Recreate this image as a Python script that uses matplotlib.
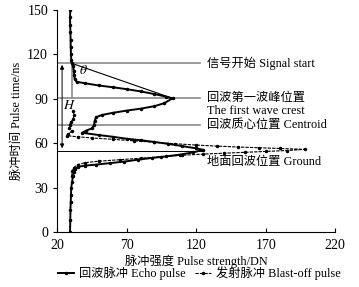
import numpy as np
import matplotlib.pyplot as plt

plt.rcParams['font.family'] = ['Liberation Serif', 'Noto Sans CJK SC']
plt.rcParams['mathtext.fontset'] = 'stix'

# echo pulse (DN, time ns), read from top to bottom
echo_dn = [29.5, 29.3, 29.4, 29.6, 29.7, 29.8, 30.0, 30.2, 30.6, 31.5, 32.0, 32.3, 32.6,
           34.0, 40, 50, 60, 70, 80, 90, 98, 103,
           97, 90, 80, 70, 60, 52, 48, 47, 46.5, 45, 41, 38,
           50, 60, 70, 80, 90, 100, 110, 120, 125,
           118, 108, 98, 88, 78, 68, 58, 48, 40, 35, 33,
           32, 31.5, 30.8, 30.2, 30.0, 29.8, 29.6, 29.5, 29.3]
echo_t = [150, 145, 140, 135, 130, 125, 120, 116, 114, 112, 109, 106, 103.5,
          101.5, 100.5, 99, 97.8, 96.5, 95, 93.2, 91.5, 90.3,
          87, 85, 83.3, 82, 80.5, 79, 77.5, 75, 72, 70, 68.5, 67,
          65.5, 64.3, 63, 62, 60.8, 59.5, 58, 56.5, 55.5,
          53.8, 52.2, 51, 50, 48.8, 47.5, 46.5, 45.5, 44.8, 44, 42.5,
          40.5, 38, 34, 30, 25, 20, 15, 8, 0]

# blast-off pulse (DN, time ns)
blast_dn = [31.5, 32, 31.5, 30, 29, 28.5, 30.5, 27.5, 27,
            35, 45, 60, 75, 90, 105, 120, 135, 150, 165, 180, 198,
            185, 170, 155, 140, 125, 110, 95, 80, 65, 50, 40, 35, 32, 31, 30.5]
blast_t = [82, 79, 76, 74.5, 72.5, 70, 68, 66, 65,
           64.3, 63.5, 62.6, 61.6, 60.6, 59.6, 58.7, 58.0, 57.4, 56.9, 56.4, 55.8,
           55.0, 54.4, 53.8, 53.2, 52.6, 51.8, 50.8, 49.8, 48.8, 47.8, 46.8, 45.5, 43.5, 41, 38]

# reference levels (ns)
t_start = 114
t_crest = 90.3
t_centroid = 72.5
t_ground = 55

xticks = [20, 70, 120, 170, 220]
yticks = [0, 30, 60, 90, 120, 150]

fig = plt.figure(figsize=(3.59, 2.87), dpi=100)
ax = fig.add_axes([0.159, 0.192, 0.775, 0.773])

gray = '#8a8a8a'
ax.plot([20, 122.7], [t_start, t_start], color=gray, lw=1.2)
ax.plot([20, 122.7], [t_crest, t_crest], color=gray, lw=1.2)
ax.plot([20, 122.7], [t_centroid, t_centroid], color=gray, lw=1.2)
ax.plot([20, 125], [t_ground, t_ground], color='black', lw=0.7)

# theta construction
ax.plot([30.5, 30.5], [t_start, t_crest], color=gray, lw=1.2)
ax.plot([30.5, 103], [t_start, t_crest], color='black', lw=0.8)
ax.text(36, 106.5, r'$\theta$', fontsize=10)

# H arrow
ax.annotate('', xy=(23.6, 56.5), xytext=(23.6, 113),
            arrowprops=dict(arrowstyle='<|-|>', color='black', lw=0.7,
                            mutation_scale=6, shrinkA=0, shrinkB=0))
ax.text(24.5, 83, r'$H$', fontsize=10)

ax.plot(echo_dn, echo_t, color='black', lw=1.4, marker='.', ms=3,
        label='回波脉冲 Echo pulse')
ax.plot(blast_dn, blast_t, color='black', lw=0.8, ls=(0, (3, 1)), marker='.', ms=3,
        label='发射脉冲 Blast-off pulse')

fs = 8.8
ax.text(128, t_start, '信号开始 Signal start', fontsize=fs, va='center', clip_on=False)
ax.text(128, t_crest, '回波第一波峰位置', fontsize=fs, va='center', clip_on=False)
ax.text(128, 81.8, 'The first wave crest', fontsize=fs, va='center', clip_on=False)
ax.text(128, t_centroid, '回波质心位置 Centroid', fontsize=fs, va='center', clip_on=False)
ax.text(128, 47.0, '地面回波位置 Ground', fontsize=fs, va='center', clip_on=False)

ax.set_xlim(20, 220)
ax.set_ylim(0, 150)
ax.set_xticks(xticks)
ax.set_yticks(yticks)
ax.spines['top'].set_visible(False)
ax.spines['right'].set_visible(False)
ax.tick_params(axis='x', direction='in', length=3, labelsize=10, pad=5)
ax.tick_params(axis='y', direction='out', length=3, labelsize=10)
ax.set_xlabel('脉冲强度 Pulse strength/DN', fontsize=fs, labelpad=2)
ax.set_ylabel('脉冲时间 Pulse time/ns', fontsize=fs, labelpad=3)

fig.legend(loc='lower center', bbox_to_anchor=(0.555, -0.015), ncol=2, frameon=False,
           fontsize=fs, handlelength=1.3, columnspacing=0.8, handletextpad=0.4)

fig.savefig('out.png', dpi=100)
